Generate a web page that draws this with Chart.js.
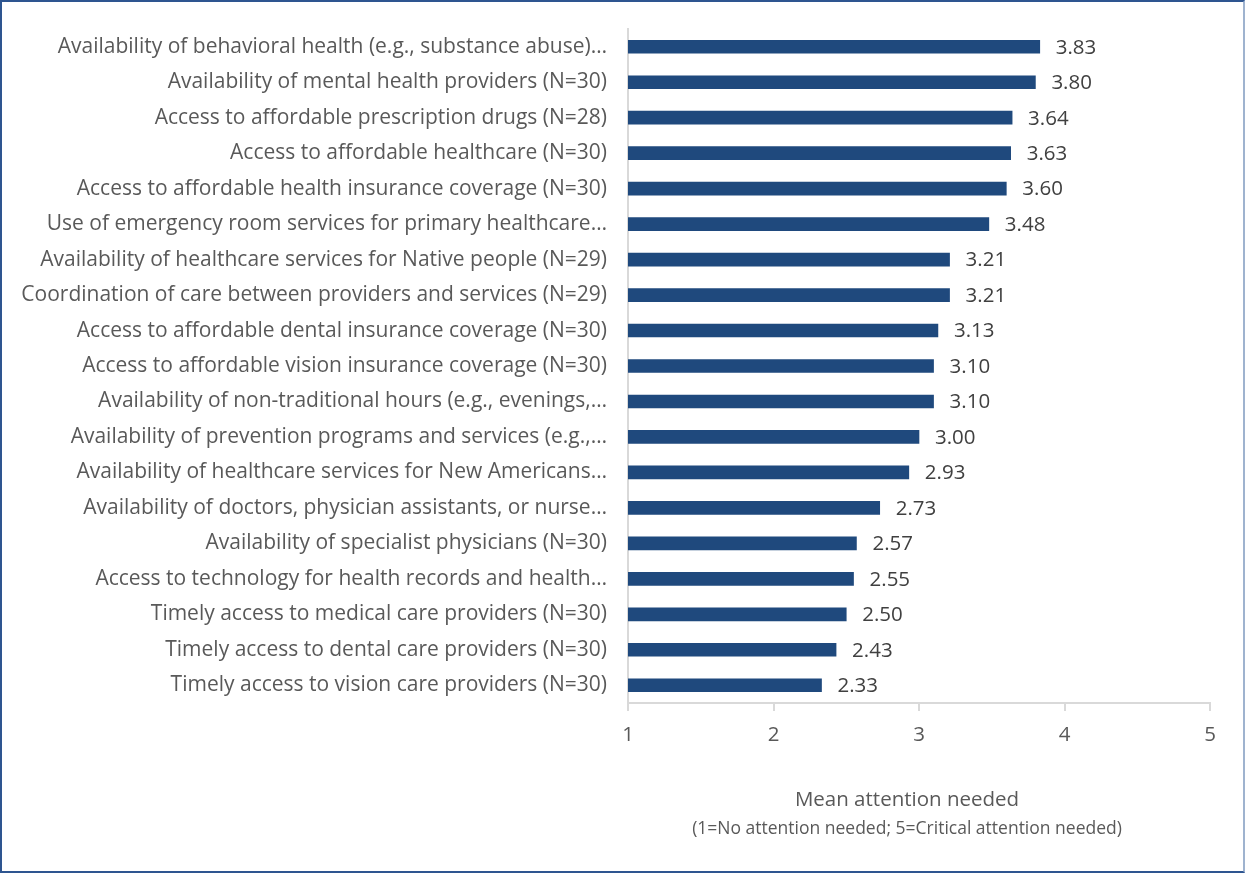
<!DOCTYPE html>
<html>
<head>
<meta charset="utf-8">
<script src="https://cdn.jsdelivr.net/npm/chart.js@4.4.1/dist/chart.umd.min.js"></script>
<style>
  html, body { margin: 0; padding: 0; background: #fff; }
  #wrap { position: absolute; left: 0; top: 0; width: 1241px; height: 869px; border: 2px solid #2E5590; border-right-color: #9fb3cf; }
  #chart { display: block; }
</style>
</head>
<body>
<div id="wrap"><canvas id="chart" width="1241" height="869"></canvas></div>
<script>
// Categories, top to bottom
const categorias = [
    'Availability of behavioral health (e.g., substance abuse)…',
    'Availability of mental health providers (N=30)',
    'Access to affordable prescription drugs (N=28)',
    'Access to affordable healthcare (N=30)',
    'Access to affordable health insurance coverage (N=30)',
    'Use of emergency room services for primary healthcare…',
    'Availability of healthcare services for Native people (N=29)',
    'Coordination of care between providers and services (N=29)',
    'Access to affordable dental insurance coverage (N=30)',
    'Access to affordable vision insurance coverage (N=30)',
    'Availability of non-traditional hours (e.g., evenings,…',
    'Availability of prevention programs and services (e.g.,…',
    'Availability of healthcare services for New Americans…',
    'Availability of doctors, physician assistants, or nurse…',
    'Availability of specialist physicians (N=30)',
    'Access to technology for health records and health…',
    'Timely access to medical care providers (N=30)',
    'Timely access to dental care providers (N=30)',
    'Timely access to vision care providers (N=30)'
];

// Mean attention needed
const medias = [3.83, 3.80, 3.64, 3.63, 3.60, 3.48, 3.21, 3.21, 3.13, 3.10, 3.10, 3.00, 2.93, 2.73, 2.57, 2.55, 2.50, 2.43, 2.33];

const tituloEixo = 'Mean attention needed';
const subtituloEixo = '(1=No attention needed; 5=Critical attention needed)';

const FONTE = 'Open Sans, sans-serif';

// Rótulos de valor na ponta das barras
const rotulosValor = {
    id: 'rotulosValor',
    afterDatasetsDraw(chart) {
        const ctx = chart.ctx;
        const meta = chart.getDatasetMeta(0);
        ctx.save();
        ctx.font = '20.5px ' + FONTE;
        ctx.fillStyle = '#404040';
        ctx.textAlign = 'left';
        ctx.textBaseline = 'middle';
        meta.data.forEach((bar, i) => {
            ctx.fillText(medias[i].toFixed(2), bar.x + 16, bar.y + 1);
        });
        ctx.restore();
    }
};

// Título do eixo em duas linhas com tamanhos diferentes
const tituloEixoX = {
    id: 'tituloEixoX',
    afterDraw(chart) {
        const ctx = chart.ctx;
        const area = chart.chartArea;
        const cx = (area.left + area.right) / 2 - 12;
        ctx.save();
        ctx.textAlign = 'center';
        ctx.textBaseline = 'middle';
        ctx.fillStyle = '#595959';
        ctx.font = '20.5px ' + FONTE;
        ctx.fillText(tituloEixo, cx, 798);
        ctx.font = '17.5px ' + FONTE;
        ctx.fillText(subtituloEixo, cx, 827);
        ctx.restore();
    }
};

new Chart(document.getElementById('chart'), {
    type: 'bar',
    data: {
        labels: categorias,
        datasets: [{
            data: medias,
            backgroundColor: '#1F497D',
            borderWidth: 0,
            barThickness: 13
        }]
    },
    options: {
        indexAxis: 'y',
        responsive: false,
        animation: false,
        layout: { padding: { top: 27, right: 33, left: 0, bottom: 0 } },
        plugins: {
            legend: { display: false },
            tooltip: { enabled: false }
        },
        scales: {
            x: {
                min: 1,
                max: 5,
                ticks: { stepSize: 1, color: '#595959', font: { family: FONTE, size: 20.5 }, padding: 12 },
                grid: { drawOnChartArea: false, drawTicks: true, tickLength: 8, color: '#d9d9d9', lineWidth: 2 },
                border: { color: '#d9d9d9', width: 2 },
                afterFit(scale) { scale.height = 168; }
            },
            y: {
                ticks: { color: '#595959', font: { family: FONTE, size: 21 }, padding: 13, autoSkip: false },
                grid: { display: false },
                border: { color: '#d9d9d9', width: 2 },
                afterFit(scale) { scale.width = 626; }
            }
        }
    },
    plugins: [rotulosValor, tituloEixoX]
});
</script>
</body>
</html>
